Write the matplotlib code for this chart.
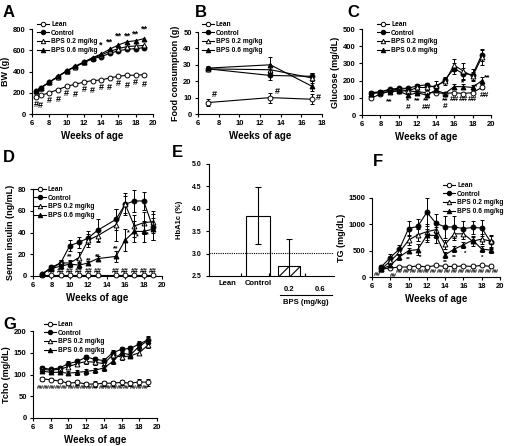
import numpy as np
import matplotlib
matplotlib.use("Agg")
import matplotlib.pyplot as plt
from matplotlib.lines import Line2D

plt.rcParams['font.family'] = ['Liberation Sans', 'DejaVu Sans']
plt.rcParams['font.weight'] = 'bold'
plt.rcParams['axes.labelweight'] = 'bold'
plt.rcParams['hatch.linewidth'] = 0.8

W, H = 505, 446

groups = ["Lean", "Control", "BPS 0.2 mg/kg", "BPS 0.6 mg/kg"]

# A: body weight
bw_weeks = [6.5, 7, 8, 9, 10, 11, 12, 13, 14, 15, 16, 17, 18, 19]
bw_lean = [160, 175, 200, 230, 260, 280, 300, 315, 320, 340, 355, 365, 365, 370]
bw_ctrl = [220, 245, 300, 350, 405, 445, 485, 520, 540, 570, 595, 610, 615, 625]
bw_low = [220, 245, 300, 350, 405, 445, 485, 525, 555, 590, 615, 635, 640, 645]
bw_high = [220, 245, 300, 355, 405, 450, 490, 530, 565, 610, 650, 680, 690, 710]

# B: food consumption
fc_weeks = [7, 13, 17]
fc_lean = [7, 10, 9]
fc_ctrl = [27.5, 23.5, 23]
fc_low = [27.5, 27, 22]
fc_high = [28, 30, 17]
fc_err_lean = [2, 3, 3]
fc_err_ctrl = [1, 3, 2]
fc_err_low = [1, 2, 3]
fc_err_high = [1, 5, 3]

# C: glucose
gl_weeks = [7, 8, 9, 10, 11, 12, 13, 14, 15, 16, 17, 18, 19]
gl_lean = [100, 120, 140, 140, 140, 135, 130, 130, 125, 130, 125, 130, 160]
gl_ctrl = [130, 135, 150, 155, 155, 170, 175, 160, 205, 270, 240, 235, 350]
gl_low = [125, 135, 145, 150, 140, 160, 160, 170, 195, 290, 255, 225, 335]
gl_high = [125, 130, 135, 140, 115, 130, 115, 145, 125, 165, 165, 160, 200]
gl_err_lean = [5, 5, 5, 5, 5, 5, 5, 5, 5, 5, 5, 5, 10]
gl_err_ctrl = [10, 8, 8, 8, 10, 10, 12, 15, 15, 30, 35, 30, 35]
gl_err_low = [10, 8, 8, 8, 10, 10, 12, 30, 20, 35, 45, 25, 45]
gl_err_high = [10, 8, 8, 8, 10, 8, 8, 10, 10, 15, 15, 12, 20]

# D: serum insulin
ins_weeks = [7, 8, 9, 10, 11, 12, 13, 15, 16, 17, 18, 19]
ins_lean = [0.5] * 12
ins_ctrl = [2, 8, 12, 28, 31, 35, 42, 52, 66, 69, 69, 45]
ins_low = [2, 7, 12, 12, 17, 33, 37, 47, 66, 46, 49, 50]
ins_high = [2, 7, 9, 11, 10, 12, 16, 18, 33, 41, 41, 43]
ins_err_lean = [0.5] * 12
ins_err_ctrl = [1, 2, 3, 5, 5, 6, 10, 10, 10, 10, 8, 12]
ins_err_low = [1, 2, 3, 3, 5, 6, 6, 15, 8, 10, 10, 10]
ins_err_high = [1, 2, 2, 3, 3, 2, 2, 5, 10, 10, 10, 10]

# E: HbA1c
hb_groups = ["Lean", "Control", "0.2", "0.6"]
hb_values = [np.nan, 3.85, 2.72, np.nan]
hb_err = [0, 0.64, 0.6, 0]
hb_cutoff = 3.02

# F: TG
tg_weeks = [7, 8, 9, 10, 11, 12, 13, 14, 15, 16, 17, 18, 19]
tg_lean = [150, 170, 190, 190, 210, 190, 220, 200, 200, 210, 200, 220, 200]
tg_ctrl = [190, 370, 530, 920, 960, 1230, 1020, 950, 950, 920, 940, 930, 660]
tg_low = [150, 300, 470, 700, 800, 860, 900, 620, 820, 820, 680, 720, 680]
tg_high = [150, 220, 380, 500, 520, 790, 790, 420, 530, 610, 700, 530, 510]
tg_err_lean = [20] * 13
tg_err_ctrl = [40, 60, 80, 150, 150, 270, 180, 200, 200, 150, 130, 150, 120]
tg_err_low = [30, 50, 60, 100, 120, 150, 150, 80, 120, 100, 100, 100, 120]
tg_err_high = [30, 30, 50, 50, 100, 130, 150, 60, 60, 60, 60, 60, 60]

# G: Tcho
tc_weeks = [7, 8, 9, 10, 11, 12, 13, 14, 15, 16, 17, 18, 19]
tc_lean = [90, 88, 85, 80, 82, 78, 78, 80, 80, 82, 80, 83, 82]
tc_ctrl = [115, 112, 115, 125, 130, 140, 135, 132, 150, 158, 160, 170, 180]
tc_low = [112, 110, 112, 118, 125, 130, 128, 125, 145, 140, 143, 150, 168]
tc_high = [108, 105, 105, 103, 105, 107, 110, 115, 130, 150, 145, 165, 178]
tc_err = [4, 4, 4, 5, 5, 5, 6, 6, 6, 6, 6, 6, 8]

# significance marks (x, y, text)
A_marks = [(14, 650, "*"), (15, 680, "**"), (16, 730, "**"), (17, 735, "**"), (18, 755, "**"), (19, 800, "**")] + \
          [(x, y - 70 - 25 * (i % 2), "#") for i, (x, y) in enumerate(zip(bw_weeks, bw_lean))]
B_marks = [(7.6, 12, "#"), (13.7, 14, "#"), (17.6, 10, "#")]
C_marks = [(9, 75, "**"), (11, 85, "*"), (11, 45, "#"), (12, 85, "**"), (13, 85, "**"), (13, 45, "##"),
           (15, 85, "**"), (15, 50, "#"), (16, 90, "##"), (17, 90, "##"), (18, 90, "##"), (19.3, 115, "##"),
           (16.9, 185, "*"), (18.3, 165, "*"), (19.6, 215, "**")]
D_marks = [(10, 18, "**"), (11, 14, "**"), (12, 14, "**"), (13, 18, "**"), (15, 25, "**"),
           (16.3, 40, "*"), (17.3, 36, "*"), (18.4, 38, "*")] + \
          [(x, 4, "##") for x in [8, 9, 10, 11, 12, 13, 15, 16, 17, 18, 19]]
F_marks = [(10, 330, "**"), (11.3, 380, "*"), (14, 270, "**"), (15, 380, "**"), (16.2, 440, "*"), (18, 370, "*"),
           (6.6, 40, "##"), (8.3, 30, "##")] + \
          [(x, 110, "##") for x in np.arange(9, 19.6, 0.75)]
G_marks = [(10, 95, "**"), (11, 95, "**"), (12, 95, "**"), (13, 100, "*"), (14, 105, "*"), (15, 120, "*")] + \
          [(x, 70, "##") for x in np.arange(6.8, 19.4, 0.7)]


def rect(l, r, t, b):
    return [l / W, 1 - b / H, (r - l) / W, (b - t) / H]


styles = [dict(marker="o", mfc="white"), dict(marker="o", mfc="black"),
          dict(marker="^", mfc="white"), dict(marker="^", mfc="black")]


def style_axis(ax, xlim, xticks, ylim, yticks, ylabel, xlabel="Weeks of age"):
    ax.set_xlim(*xlim)
    ax.set_ylim(*ylim)
    ax.set_xticks(xticks)
    ax.set_yticks(yticks)
    for s in ["top", "right"]:
        ax.spines[s].set_visible(False)
    for s in ["left", "bottom"]:
        ax.spines[s].set_linewidth(0.8)
    ax.tick_params(labelsize=5.5, length=2.5, width=0.8, pad=2)
    for lb in ax.get_xticklabels() + ax.get_yticklabels():
        lb.set_fontweight("bold")
    ax.set_ylabel(ylabel, fontsize=6.5, labelpad=2)
    if xlabel:
        ax.set_xlabel(xlabel, fontsize=7, labelpad=3)


def series_panel(ax, x, ys, errs, marks, fontsize=6):
    for i, y in enumerate(ys):
        e = errs[i] if errs is not None else None
        ax.errorbar(x, y, yerr=e, color="black", lw=0.8, elinewidth=0.7, capsize=1.5, capthick=0.7,
                    markersize=3.5, mec="black", mew=0.7, clip_on=False, zorder=3 + i, **styles[i])
    for mx, my, t in marks:
        ax.text(mx, my, t, ha="center", va="center", fontsize=fontsize, fontweight="bold")


def legend(ax, px, py, fs=4.8):
    handles = [Line2D([0], [0], color="black", lw=0.8, markersize=3.2, mec="black", mew=0.7, **s) for s in styles]
    ax.legend(handles, groups, loc="upper left", bbox_to_anchor=(px / W, 1 - py / H),
              bbox_transform=ax.figure.transFigure, frameon=False, borderpad=0,
              borderaxespad=0, labelspacing=0.25, handlelength=1.8, handletextpad=0.3,
              prop=dict(weight="bold", size=fs))


fig = plt.figure(figsize=(W / 100, H / 100), dpi=100)

# A
ax = fig.add_axes(rect(32, 153, 29, 114))
series_panel(ax, bw_weeks, [bw_lean, bw_ctrl, bw_low, bw_high], None, A_marks, 6.5)
style_axis(ax, (6, 20), range(6, 21, 2), (0, 800), range(0, 801, 200), "BW (g)")
legend(ax, 37, 21)

# B
ax = fig.add_axes(rect(198, 322, 32, 114))
series_panel(ax, fc_weeks, [fc_lean, fc_ctrl, fc_low, fc_high],
             [fc_err_lean, fc_err_ctrl, fc_err_low, fc_err_high], B_marks, 6.5)
style_axis(ax, (6, 18), range(6, 19, 2), (0, 50), range(0, 51, 10), "Food consumption (g)")
legend(ax, 202, 21)

# C
ax = fig.add_axes(rect(362, 491, 29, 115))
series_panel(ax, gl_weeks, [gl_lean, gl_ctrl, gl_low, gl_high],
             [gl_err_lean, gl_err_ctrl, gl_err_low, gl_err_high], C_marks, 6)
style_axis(ax, (6, 20), range(6, 21, 2), (0, 500), range(0, 501, 100), "Glucose (mg/dL)")
legend(ax, 377, 21)

# D
ax = fig.add_axes(rect(33, 162, 189, 276))
series_panel(ax, ins_weeks, [ins_lean, ins_ctrl, ins_low, ins_high],
             [ins_err_lean, ins_err_ctrl, ins_err_low, ins_err_high], D_marks, 5)
style_axis(ax, (6, 20), range(6, 21, 2), (0, 80), range(0, 81, 20), "Serum insulin (ng/mL)")
legend(ax, 34, 186)

# E
ax = fig.add_axes(rect(209, 334, 164, 276))
xpos = np.arange(len(hb_groups))
ax.bar(xpos[:2], hb_values[:2], width=0.75, color="white", edgecolor="black", lw=0.8)
ax.bar(xpos[2:], hb_values[2:], width=0.72, color="white", edgecolor="black", lw=0.8, hatch="///")
ax.errorbar(xpos[1:3], hb_values[1:3], yerr=hb_err[1:3], fmt="none", ecolor="black", elinewidth=0.8,
            capsize=2, capthick=0.8)
ax.axhline(hb_cutoff, color="black", lw=0.8, ls=(0, (1, 1)))
ax.set_xlim(-0.58, 3.45)
ax.set_ylim(2.5, 5.0)
ax.set_yticks(np.arange(2.5, 5.01, 0.5))
ax.set_yticklabels([f"{v:.1f}" for v in np.arange(2.5, 5.01, 0.5)])
ax.set_xticks([0.45, 1.35, 2.5])
ax.set_xticklabels([])
ax.tick_params(axis="x", direction="in", length=2, width=0.8)
ax.tick_params(axis="y", labelsize=5, length=2.5, width=0.8, pad=3)
for s in ["top", "right"]:
    ax.spines[s].set_visible(False)
ax.set_ylabel("HbA1c (%)", fontsize=5.5, labelpad=6)
for xp, g in zip(xpos, hb_groups):
    dy = 0.16 if xp < 2 else 0.31
    ax.text(xp, 2.5 - dy, g, ha="center", va="center", fontsize=5.5, fontweight="bold")
ax.plot([1.7, 3.4], [2.5 - 0.42, 2.5 - 0.42], color="black", lw=0.8, clip_on=False)
ax.text(2.55, 2.5 - 0.6, "BPS (mg/kg)", ha="center", va="center", fontsize=5.5, fontweight="bold")

# F
ax = fig.add_axes(rect(372, 500, 198, 277))
series_panel(ax, tg_weeks, [tg_lean, tg_ctrl, tg_low, tg_high],
             [tg_err_lean, tg_err_ctrl, tg_err_low, tg_err_high], F_marks, 4.5)
style_axis(ax, (6, 20), range(6, 21, 2), (0, 1500), range(0, 1501, 500), "TG (mg/dL)")
legend(ax, 443, 182)

# G
ax = fig.add_axes(rect(33, 157, 331, 418))
series_panel(ax, tc_weeks, [tc_lean, tc_ctrl, tc_low, tc_high], [tc_err] * 4, G_marks, 4.5)
style_axis(ax, (6, 20), range(6, 21, 2), (0, 200), range(0, 201, 50), "Tcho (mg/dL)")
legend(ax, 44, 321)

# panel letters
for lbl, px, py in [("A", 3, 5), ("B", 195, 5), ("C", 347, 5), ("D", 3, 150), ("E", 172, 145),
                    ("F", 373, 154), ("G", 3, 317)]:
    fig.text(px / W, 1 - py / H, lbl, fontsize=12, fontweight="bold", va="top", ha="left")

fig.savefig("out.png", dpi=100)
